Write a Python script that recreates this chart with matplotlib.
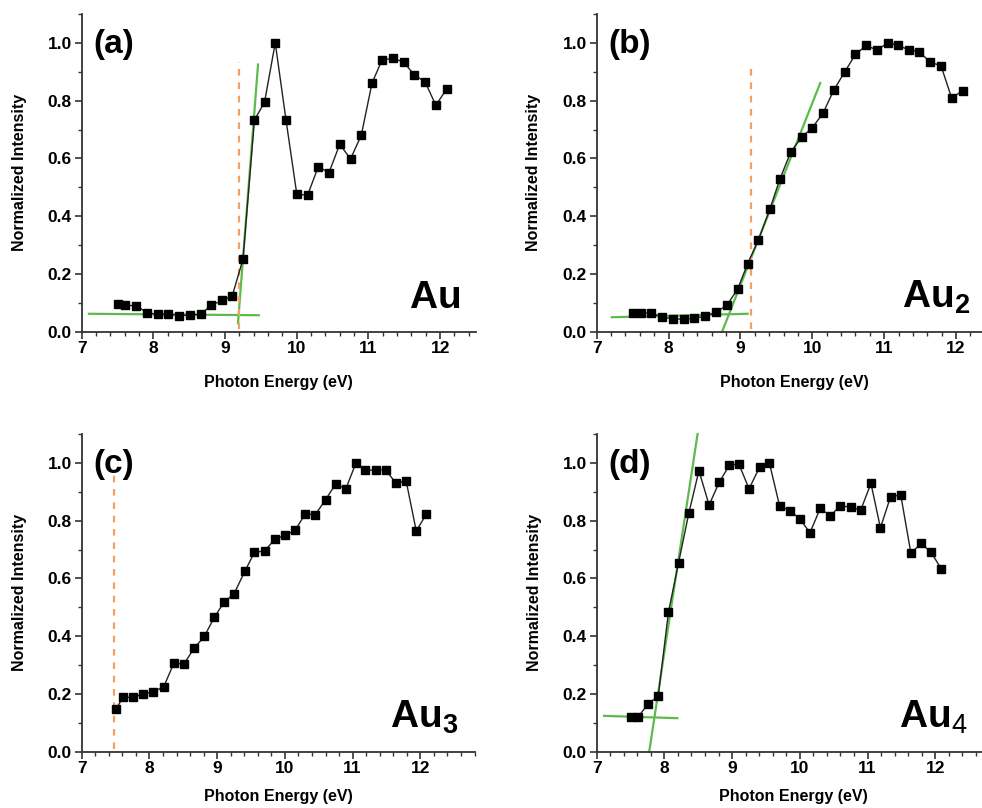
import matplotlib.pyplot as plt
import numpy as np

plt.rcParams['font.family'] = ['Liberation Sans', 'DejaVu Sans']
plt.rcParams['font.weight'] = 'bold'
plt.rcParams['mathtext.fontset'] = 'custom'
plt.rcParams['mathtext.rm'] = 'Liberation Sans:normal'
plt.rcParams['mathtext.bf'] = 'Liberation Sans:bold'

# photon energies (eV), same grid for all four clusters
energy = [7.51, 7.61, 7.76, 7.91, 8.06, 8.21, 8.36, 8.51, 8.66, 8.81, 8.96,
          9.10, 9.25, 9.41, 9.55, 9.70, 9.85, 10.00, 10.15, 10.30, 10.45,
          10.60, 10.75, 10.90, 11.05, 11.19, 11.34, 11.49, 11.64, 11.79,
          11.94, 12.09]

au1 = [0.095, 0.091, 0.090, 0.066, 0.060, 0.062, 0.055, 0.058, 0.060, 0.092,
       0.108, 0.124, 0.251, 0.733, 0.794, 1.000, 0.733, 0.477, 0.472, 0.571,
       0.551, 0.649, 0.598, 0.680, 0.861, 0.941, 0.946, 0.934, 0.889, 0.865,
       0.784, 0.840]
au2 = [0.064, 0.064, 0.065, 0.051, 0.044, 0.044, 0.046, 0.054, 0.068, 0.091,
       0.147, 0.235, 0.318, 0.425, 0.529, 0.622, 0.673, 0.706, 0.757, 0.837,
       0.899, 0.960, 0.991, 0.975, 1.000, 0.992, 0.976, 0.969, 0.933, 0.921,
       0.808, 0.835]
au3 = [0.149, 0.188, 0.188, 0.200, 0.208, 0.224, 0.306, 0.304, 0.358, 0.399,
       0.466, 0.517, 0.547, 0.625, 0.690, 0.695, 0.735, 0.749, 0.766, 0.823,
       0.821, 0.872, 0.927, 0.910, 1.000, 0.975, 0.975, 0.976, 0.929, 0.938,
       0.764, 0.823]
au4 = [0.120, 0.120, 0.165, 0.193, 0.483, 0.655, 0.825, 0.973, 0.854, 0.933,
       0.992, 0.996, 0.910, 0.987, 1.000, 0.852, 0.835, 0.806, 0.758, 0.842,
       0.817, 0.852, 0.846, 0.837, 0.929, 0.775, 0.883, 0.889, 0.687, 0.721,
       0.690, 0.632]

# linear fits: baseline and rising edge (endpoints), onset energy
base_x = [[7.10, 9.47], [7.21, 9.10], None, [7.11, 8.19]]
base_y = [[0.062, 0.057], [0.050, 0.062], None, [0.124, 0.116]]
edge_x = [[9.18, 9.46], [8.745, 10.11], None, [7.776, 8.49]]
edge_y = [[0.029, 0.925], [0.0, 0.861], None, [0.0, 1.10]]
onset = [9.20, 9.15, 7.48, None]
onset_top = [0.933, 0.925, 0.96, None]

series = [au1, au2, au3, au4]
panel = ['(a)', '(b)', '(c)', '(d)']
name = [r'$\mathbf{Au}$', r'$\mathbf{Au_2}$', r'$\mathbf{Au_3}$', r'$\mathbf{Au}_4$']
xmax = [12.5, 12.5, 12.8, 12.8]
boxes = [[0.0832, 0.5895, 0.4015, 0.3932],
         [0.6076, 0.5895, 0.4026, 0.3932],
         [0.0832, 0.0697, 0.4000, 0.3932],
         [0.6076, 0.0697, 0.4000, 0.3932]]
xlab_y = [-0.135, -0.135, -0.118, -0.118]

green = '#5dbb4c'
orange = '#f5a060'

fig = plt.figure(figsize=(9.82, 8.08), dpi=100)
for i in range(4):
    ax = fig.add_axes(boxes[i])
    ax.plot(energy, series[i], '-', color='#222222', lw=1.0,
            marker='s', ms=5.5, mfc='black', mec='black', zorder=3)
    if base_x[i] is not None:
        ax.plot(base_x[i], base_y[i], color=green, lw=1.6, zorder=2)
        ax.plot(edge_x[i], edge_y[i], color=green, lw=1.6, zorder=2,
                clip_on=False)
    if onset[i] is not None:
        ax.plot([onset[i], onset[i]], [0.01, onset_top[i]], color=orange,
                lw=1.6, ls=(0, (3, 3)), zorder=2)

    ax.set_xlim(7, xmax[i])
    ax.set_ylim(0, 1.1)
    ax.set_xticks([7, 8, 9, 10, 11, 12])
    ax.set_xticks(np.arange(7, xmax[i] + 0.01, 0.2), minor=True)
    ax.set_yticks([0.0, 0.2, 0.4, 0.6, 0.8, 1.0])
    ax.set_yticks(np.arange(0, 1.11, 0.1), minor=True)
    ax.set_yticklabels(['0.0', '0.2', '0.4', '0.6', '0.8', '1.0'])
    ax.tick_params(which='major', length=5, width=1.2, labelsize=12.5,
                   color='#333333', pad=2)
    ax.tick_params(which='minor', length=3, width=1.0, color='#333333')
    for lbl in ax.get_xticklabels() + ax.get_yticklabels():
        lbl.set_fontweight('bold')
    for s in ['top', 'right']:
        ax.spines[s].set_visible(False)
    for s in ['left', 'bottom']:
        ax.spines[s].set_linewidth(1.3)
        ax.spines[s].set_color('#333333')

    ax.set_xlabel('Photon Energy (eV)', fontsize=11.5, fontweight='bold')
    ax.set_ylabel('Normalized Intensity', fontsize=11.5, fontweight='bold')
    ax.xaxis.set_label_coords(0.5, xlab_y[i])
    ax.yaxis.set_label_coords(-0.14, 0.5)

    ax.text(0.03, 0.905, panel[i], transform=ax.transAxes, fontsize=24,
            fontweight='bold', va='center', ha='left')
    ax.text(0.96 if i % 2 == 0 else 0.945, 0.075, name[i],
            transform=ax.transAxes, fontsize=28, ha='right', va='baseline')

fig.savefig('out.png', dpi=100)
